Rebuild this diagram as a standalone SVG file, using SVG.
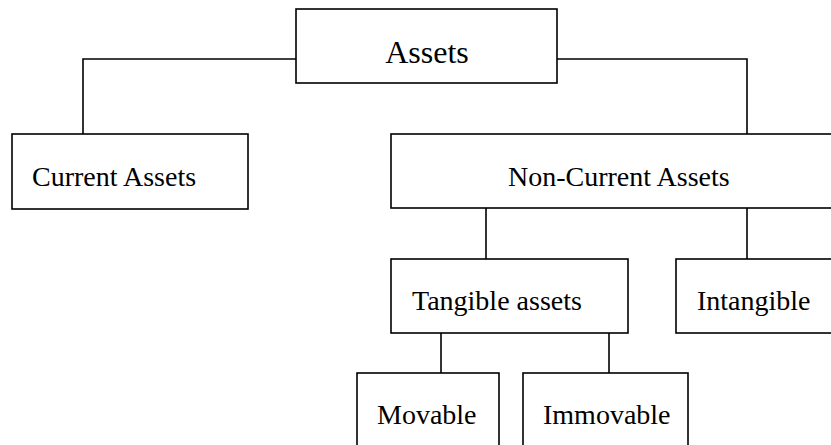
<svg xmlns="http://www.w3.org/2000/svg" width="831" height="445" viewBox="0 0 831 445">
<style>
rect{fill:#fff;stroke:#000;stroke-width:1.6}
.c path{fill:none;stroke:#000;stroke-width:1.6}
text{font-family:"Liberation Serif","Times New Roman",serif;font-size:28px;fill:#000}
</style>
<rect x="0" y="0" width="831" height="445" style="stroke:none"/>
<g class="c" id="connectors">
<path d="M296,59 H83 V134"/>
<path d="M557,59 H747 V134"/>
<path d="M486,208 V259"/>
<path d="M747,208 V259"/>
<path d="M441,325 V373"/>
<path d="M609,325 V373"/>
</g>
<g id="assets"><rect x="296" y="9" width="261" height="74"/><text x="427" y="63" text-anchor="middle" style="font-size:32px">Assets</text></g>
<g id="current"><rect x="12" y="134" width="236" height="75"/><text x="32" y="186">Current Assets</text></g>
<g id="noncurrent"><rect x="391" y="134" width="445" height="74"/><text x="508" y="186">Non-Current Assets</text></g>
<g id="tangible"><rect x="391" y="259" width="237" height="74"/><text x="412" y="310">Tangible assets</text></g>
<g id="intangible"><rect x="676" y="259" width="160" height="74"/><text x="697" y="310">Intangible</text></g>
<g id="movable"><rect x="357" y="373" width="142" height="80"/><text x="377" y="424">Movable</text></g>
<g id="immovable"><rect x="523" y="373" width="165" height="80"/><text x="543" y="424">Immovable</text></g>
</svg>
